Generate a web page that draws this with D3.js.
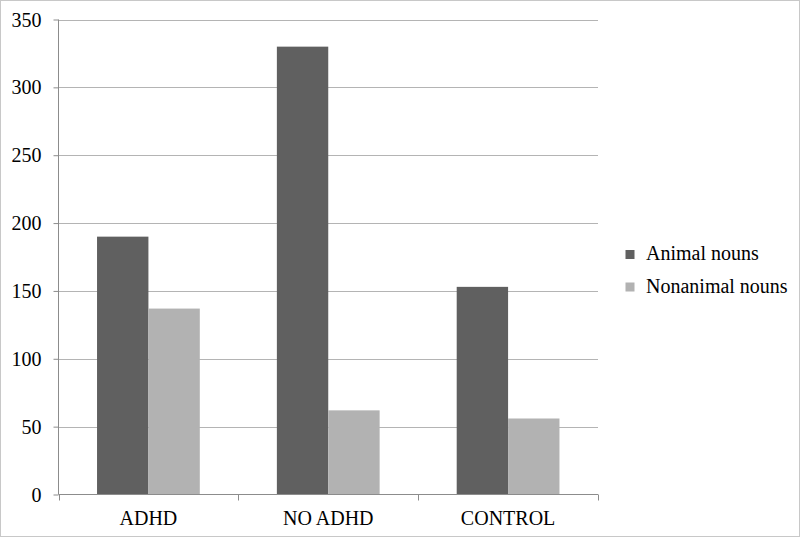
<!DOCTYPE html>
<html><head><meta charset="utf-8">
<script src="https://cdn.jsdelivr.net/npm/d3@7"></script>
<style>body{margin:0;background:#fff}svg{display:block;font-family:"Liberation Serif","Times New Roman",serif}</style>
</head><body><svg id="c" width="800" height="537"></svg>
<script>
const categories = ["ADHD", "NO ADHD", "CONTROL"];
const seriesNames = ["Animal nouns", "Nonanimal nouns"];
const animal = [190, 330, 153];
const nonanimal = [137, 62, 56];
const yTicks = [0, 50, 100, 150, 200, 250, 300, 350];
const colors = ["#606060", "#b2b2b2"];
const FONT = "Liberation Serif";

const svg = d3.select("#c");
svg.append("rect").attr("x",0.5).attr("y",0.5).attr("width",799).attr("height",536)
  .attr("fill","#fff").attr("stroke","#c8c8c8");

const L=58.5, R=598, T=19.5, B=494.5;
const x = d3.scaleBand().domain(categories).range([L,R]).paddingInner(0).paddingOuter(0);
const y = d3.scaleLinear().domain([0,350]).range([B,T]);

// gridlines
svg.append("g").selectAll("line").data(yTicks.filter(d=>d>0)).join("line")
  .attr("x1",L).attr("x2",R).attr("y1",d=>Math.round(y(d))+0.5).attr("y2",d=>Math.round(y(d))+0.5)
  .attr("stroke","#b4b4b4").attr("stroke-width",1);

// bars (gap width 150%)
const data = categories.map((c,i)=>({c, vals:[animal[i], nonanimal[i]]}));
const groupW = x.bandwidth();
const xs = d3.scaleBand().domain([0,1]).range([0,groupW]).paddingInner(0).paddingOuter(0.75);
svg.append("g").selectAll("g").data(data).join("g")
  .attr("transform",d=>`translate(${x(d.c)},0)`)
  .selectAll("rect").data(d=>d.vals.map((v,j)=>({v,j}))).join("rect")
  .attr("x",d=>xs(d.j)).attr("width",xs.bandwidth())
  .attr("y",d=>y(d.v)).attr("height",d=>B-y(d.v))
  .attr("fill",d=>colors[d.j]);

// y axis
const ya = svg.append("g").attr("transform",`translate(${L},0)`)
  .call(d3.axisLeft(y).tickValues(yTicks).tickSize(5).tickPadding(12).tickFormat(d3.format("d")));
ya.attr("font-family",FONT).attr("font-size",20);
ya.select(".domain").attr("stroke","#8c8c8c").attr("d",`M0,${T}V${B}`);
ya.selectAll(".tick line").attr("stroke","#8c8c8c");
ya.selectAll(".tick text").attr("fill","#000").attr("dy","0.33em");

// x axis
const xa = svg.append("g").attr("transform",`translate(0,${B})`)
  .call(d3.axisBottom(x).tickSize(0).tickPadding(16));
xa.attr("font-family",FONT).attr("font-size",20);
xa.select(".domain").attr("stroke","#8c8c8c").attr("d",`M${L},0H${R}`);
xa.selectAll(".tick text").attr("fill","#000").attr("dy","0.71em");
// category separator ticks
svg.append("g").selectAll("line").data(d3.range(categories.length+1)).join("line")
  .attr("x1",i=>Math.round(L+i*groupW)+0.5).attr("x2",i=>Math.round(L+i*groupW)+0.5)
  .attr("y1",B).attr("y2",B+6).attr("stroke","#8c8c8c");

// legend
const lg = svg.append("g").selectAll("g").data(seriesNames).join("g")
  .attr("transform",(d,i)=>`translate(625.5,${260+i*32.5})`);
lg.append("rect").attr("x",0).attr("y",-10).attr("width",9).attr("height",9).attr("fill",(d,i)=>colors[i]);
lg.append("text").attr("x",20.5).attr("y",0).attr("font-family",FONT).attr("font-size",20).attr("fill","#000").text(d=>d);
</script></body></html>
